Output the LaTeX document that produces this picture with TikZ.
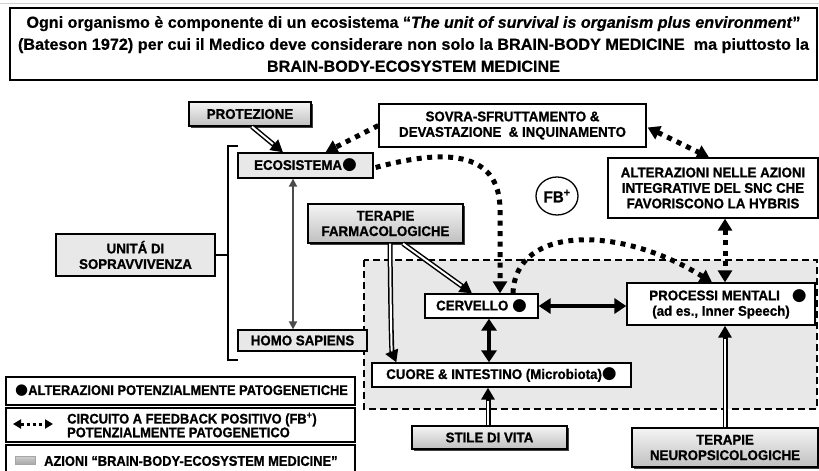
\documentclass[tikz,border=0pt]{standalone}
\usepackage{fontspec}
\usepackage{graphicx}
\setmainfont{Liberation Sans}
\newfontfamily\titlefont[FakeBold=0.6]{Liberation Sans}
\newfontfamily\nodefont[FakeStretch=0.95,FakeBold=1]{Liberation Sans}
\newfontfamily\legfont[FakeStretch=0.92,FakeBold=1]{Liberation Sans}
\newfontfamily\dejavu{DejaVu Sans}
\usetikzlibrary{arrows.meta,shadows,calc,shapes.geometric}
\newcommand\bdot{{\dejavu\fontsize{17}{17}\selectfont ●}}
\newcommand\ldot{{\dejavu\fontsize{15}{15}\selectfont ●}}
\begin{document}
\begin{tikzpicture}[x=1pt,y=-1pt,
  nf/.style={font=\nodefont\bfseries\fontsize{14}{15.5}\selectfont},
  lf/.style={font=\legfont\bfseries\fontsize{14}{12.5}\selectfont},
  box/.style={draw, line width=1.3pt, nf, align=center, inner sep=1pt, anchor=center},
  wbox/.style={box, fill=white},
  sbox/.style={box, fill=gray!18},
  gbox/.style={box, top color=gray!8, bottom color=gray!50,
    drop shadow={shadow xshift=1.5pt, shadow yshift=-1.5pt, fill=black!75, opacity=1}},
  fbpat/.style={line width=5pt, dash pattern=on 5pt off 5.5pt},
  fb/.style={fbpat, {Triangle[length=12pt,width=14pt]}-{Triangle[length=12pt,width=14pt]}},
  fbone/.style={fbpat, -{Triangle[length=12pt,width=14pt]}},
  dbl/.style={line width=5pt, -{Triangle[length=12pt,width=13pt]},
    postaction={draw=white, line width=2pt, shorten >=13pt, -}},
  big/.style={line width=3.5pt, {Triangle[length=12pt,width=15pt]}-{Triangle[length=12pt,width=15pt]}},
  gr/.style={draw=gray!60!black, line width=1.8pt, {Triangle[length=8pt,width=8pt]}-{Triangle[length=8pt,width=8pt]}},
  bracket/.style={line width=2.5pt},
]
\useasboundingbox (0,0) rectangle (819,471);
\fill[white] (0,0) rectangle (819,471);
\draw[gray!35, line width=0.8pt] (0,3) -- (819,3);

% title
\node[draw, line width=1.3pt, minimum width=807pt, minimum height=72pt, inner sep=0pt, align=center,
  font=\titlefont\bfseries\fontsize{16}{22}\selectfont] (title) at (413.5,44)
  {\resizebox{774pt}{\height}{Ogni organismo è componente di un ecosistema “\textit{The unit of survival is organism plus environment}”}\\
   \resizebox{791pt}{\height}{(Bateson 1972) per cui il Medico deve considerare non solo la BRAIN-BODY MEDICINE\ \ ma piuttosto la}\\
   \resizebox{293pt}{\height}{BRAIN-BODY-ECOSYSTEM MEDICINE}};

% shaded region
\draw[fill=gray!18, line width=1.5pt, dash pattern=on 7pt off 4pt] (364,260) rectangle (817,409);

% nodes
\node[gbox, minimum width=122pt, minimum height=24pt] (prot) at (250,114) {PROTEZIONE};
\node[sbox, minimum width=135pt, minimum height=25pt] (ecos) at (305.5,165.5) {ECOSISTEMA\bdot};
\node[sbox, minimum width=159pt, minimum height=42pt] (unit) at (135.5,255) {UNITÁ DI\\SOPRAVVIVENZA};
\node[sbox, minimum width=129pt, minimum height=21pt] (homo) at (302.5,340.5) {HOMO SAPIENS};
\node[gbox, minimum width=155pt, minimum height=39pt] (tf) at (385.5,223.5) {TERAPIE\\FARMACOLOGICHE};
\node[wbox, minimum width=113pt, minimum height=24pt] (cerv) at (481.5,306) {CERVELLO \bdot};
\node[wbox, minimum width=259pt, minimum height=24pt] (cuore) at (501.5,375) {CUORE \& INTESTINO (Microbiota)\bdot};
\node[wbox, minimum width=188pt, minimum height=42pt] (proc) at (721,304) {\hspace*{14pt}PROCESSI MENTALI\hspace{12pt}\bdot\\(ad es., Inner Speech)};
\node[gbox, minimum width=186pt, minimum height=39pt] (tn) at (725,447.5) {TERAPIE\\NEUROPSICOLOGICHE};
\node[gbox, minimum width=155pt, minimum height=23pt] (stile) at (489.5,437.5) {STILE DI VITA};
\node[wbox, minimum width=267pt, minimum height=43pt] (sovra) at (512.5,125.5) {SOVRA-SFRUTTAMENTO \&\\DEVASTAZIONE\ \ \& INQUINAMENTO};
\node[wbox, minimum width=210pt, minimum height=60pt] (alt) at (713,188) {ALTERAZIONI NELLE AZIONI\\INTEGRATIVE DEL SNC CHE\\FAVORISCONO LA HYBRIS};
\node[draw, ellipse, line width=1.3pt, minimum width=42pt, minimum height=38pt, inner sep=0pt,
  font=\nodefont\bfseries\fontsize{16}{16}\selectfont] (fbc) at (557,196) {FB\textsuperscript{+}};

% legend
\node[draw, line width=1.3pt, minimum width=349pt, minimum height=28pt] (leg1) at (180.5,391) {};
\node[draw, line width=1.3pt, minimum width=349pt, minimum height=34pt] (leg2) at (180.5,425) {};
\node[draw, line width=1.3pt, minimum width=349pt, minimum height=30pt] (leg3) at (180.5,460) {};
\node[lf, anchor=west, inner sep=0pt] (leg1t) at (15,391) {\ldot ALTERAZIONI POTENZIALMENTE PATOGENETICHE};
\coordinate (lga) at (13,424);
\coordinate (lgb) at (53,424);
\draw[line width=3pt, dash pattern=on 3pt off 3pt, {Triangle[length=8pt,width=9pt]}-{Triangle[length=8pt,width=9pt]}] (lga) -- (lgb);
\node[lf, anchor=west, inner sep=0pt, align=left] (leg2t) at (67,425) {CIRCUITO A FEEDBACK POSITIVO (FB\textsuperscript{+})\\POTENZIALMENTE PATOGENETICO};
\node[draw=gray!70, top color=gray!40, bottom color=gray!70, minimum width=20pt, minimum height=8pt, inner sep=0pt] (legsw) at (25,460.5) {};
\node[lf, anchor=west, inner sep=0pt] (leg3t) at (44,461) {AZIONI “BRAIN-BODY-ECOSYSTEM MEDICINE”};

% bracket
\coordinate (bt) at (238,146);
\coordinate (bb) at (238,360);
\coordinate (bm) at (228,255);
\draw[bracket] (bt) -- ++(-10,0) -- ++(0,214) -- (bb);
\draw[bracket] (unit.east) -- (bm);

% connectors
\draw[gr] ($(ecos.south)+(-12.5,0)$) -- ($(homo.north)+(-9.5,0)$);
\draw[dbl] ($(prot.south)+(2,0)$) -- ($(ecos.north)+(-22.5,0)$);
\draw[dbl] ($(tf.south)+(4.5,0)$) .. controls (391,345) and (392,352) .. ($(cuore.north west)+(25,0)$);
\draw[dbl] ($(tf.south)+(17.5,0)$) -- ($(cerv.north)+(-9.5,0)$);
\draw[dbl] ($(stile.north)+(-1.5,0)$) -- ($(cuore.south)+(-13.5,0)$);
\draw[dbl] (tn.north) -- ($(proc.south)+(4,0)$);
\draw[big] (cerv.east) -- (proc.west |- cerv.east);
\draw[big] ($(cerv.south)+(7.5,0)$) -- ($(cuore.north)+(-12.5,0)$);

\draw[fbone] (sovra.west) -- ($(ecos.north)+(20,0)$);
\draw[fb] ($(sovra.east)+(1,2)$) -- ($(alt.north)+(-4,0)$);
\draw[fb] ($(alt.south)+(12,0)$) -- ($(proc.north)+(4,0)$);
\draw[fbone] ($(ecos.east)+(2,2)$) .. controls (440,150) and (500,148) .. (500,210) -- ($(cerv.north)+(18.5,0)$);
\draw[fbone] ($(cerv.north)+(31.5,0)$) .. controls (515,225) and (620,225) .. ($(proc.north)+(-9,0)$);
\end{tikzpicture}
\end{document}
